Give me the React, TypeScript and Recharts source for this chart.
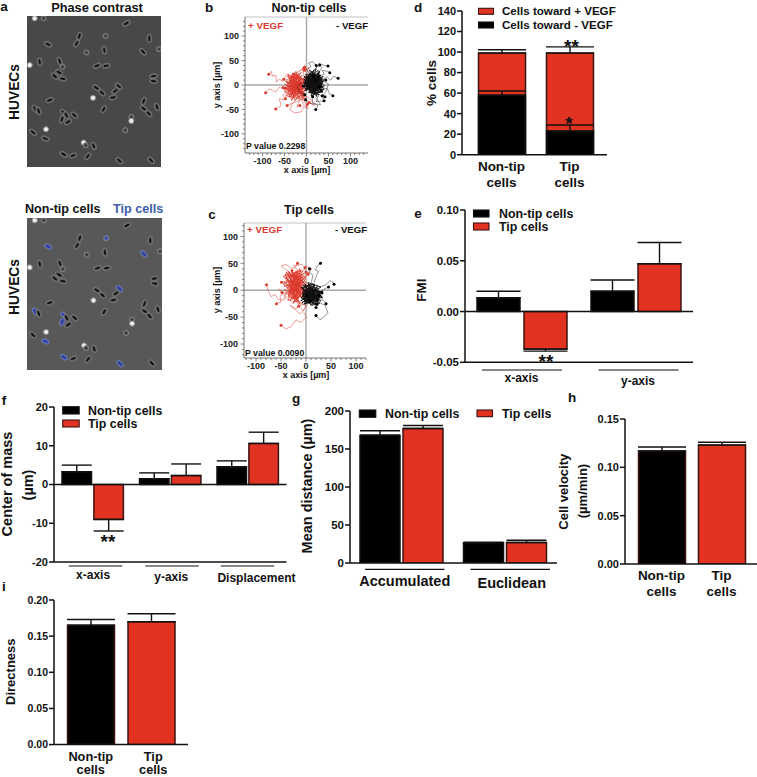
import React from 'react';
import {
  BarChart, Bar, Cell, XAxis, YAxis, ErrorBar, ReferenceLine,
  ScatterChart, Scatter,
} from 'recharts';

const FONT = '"Liberation Sans", Arial, sans-serif';
const BLACK = '#000000';
const RED = '#e23322';
const TRACE_RED = '#dc3a2e';
const TIP_BLUE = '#3d5ea8';

// ---------- panel d
const dCategories = ['Non-tip\ncells', 'Tip\ncells'];
const dTotal = [99, 99];
const dTotalErr = [3.2, 6];
const dMinus = [58, 23];
const dMinusErr = [4, 6];

// ---------- panel e
const eCategories = ['x-axis', 'y-axis'];
const eNonTip = [0.0135, 0.02];
const eNonTipErr = [0.0065, 0.011];
const eTip = [-0.037, 0.047];
const eTipErr = [0.002, 0.021];

// ---------- panel f
const fCategories = ['x-axis', 'y-axis', 'Displacement'];
const fNonTip = [3.3, 1.5, 4.6];
const fNonTipErr = [1.7, 1.5, 1.5];
const fTip = [-9, 2.3, 10.6];
const fTipErr = [3, 3, 2.9];

// ---------- panel g
const gCategories = ['Accumulated', 'Euclidean'];
const gNonTip = [168, 26.5];
const gNonTipErr = [6, 1];
const gTip = [177, 27];
const gTipErr = [4, 3];

// ---------- panels h, i
const cellTypes = ['Non-tip\ncells', 'Tip\ncells'];
const hValues = [0.117, 0.123];
const hErr = [0.004, 0.003];
const iValues = [0.165, 0.17];
const iErr = [0.008, 0.011];

// ---------- micrographs: x, y, angle, kind (0 elongated, 1 round, 2 bright)
const phaseCells: number[][] = [
  [378, 70, -30, 0], [229, 130, -60, 0], [237, 108, -70, 0], [143, 133, 25, 0], [316, 108, 0, 1],
  [447, 115, 90, 0], [312, 150, 80, 0], [258, 157, 0, 1], [428, 155, 45, 0], [476, 147, 0, 1],
  [118, 185, 80, 0], [178, 183, 70, 0], [187, 200, 0, 1], [290, 197, -20, 0], [318, 197, -10, 0],
  [88, 195, 0, 2], [163, 228, 40, 0], [176, 217, 30, 0], [187, 236, 10, 0], [460, 228, -10, 0],
  [460, 243, 10, 0], [288, 263, 30, 0], [305, 278, 40, 0], [355, 258, 40, 0], [345, 272, -35, 0],
  [338, 292, -10, 0], [278, 293, 0, 2], [148, 300, -20, 0], [104, 326, 60, 0], [115, 332, 70, 0],
  [430, 303, -70, 0], [430, 325, 30, 0], [445, 340, 45, 0], [470, 320, 70, 0], [310, 327, -60, 0],
  [190, 337, 40, 0], [185, 357, -70, 0], [198, 345, 60, 0], [203, 365, -30, 0], [222, 345, 40, 0],
  [393, 350, 0, 1], [393, 362, 0, 2], [375, 390, 0, 1], [137, 387, 0, 2], [98, 396, 40, 0],
  [135, 415, 20, 0], [250, 427, 0, 2], [256, 435, 0, 1], [280, 437, 70, 0], [190, 462, 30, 0],
  [218, 466, -20, 0], [262, 468, -50, 0], [357, 481, 40, 0], [452, 480, 45, 0], [103, 55, 0, 2],
  [130, 55, 0, 1],
];
const tipCellIndexes = [3, 4, 8, 23, 28, 35, 36, 45, 49, 52];

// ---------- panel b tracks: flat x,y lists
const bRedTracks: number[][] = [
  [-18,-6,-34,8,-8,-10,-26,16,-44,-12,-14,6,-30,-26,-4,2,-38,10,-20,-14,-50,2,-10,-20,-32,-4,-16,20,-42,-16,-24,-2],
  [-24,-10,-10,6,-36,-6,-18,24,-46,-2,-6,-6,-28,-20,-14,14,-40,-24,-22,8,-8,-24,-34,20,-16,-16,-30,2,-4,-18,-48,-6],
  [-12,-4,-28,6,-42,-14,-20,-8,-34,-32,-16,16,-6,-26,-38,2,-24,28,-12,-14,-44,6,-26,-16,-2,10,-30,22],
  [-20,0,-40,15,-5,-15,-35,-20,-10,20,-45,-5,0,5,-28,25,-15,-28,-48,8,-3,-8,-30,-12,-12,14,-38,-25,2,18,-25,5],
  [-30,-8,-8,-22,-44,18,-18,12,-2,-28,-50,-14,-12,26,-34,4,4,-6,-26,-32,-42,22,-6,8,-22,-18,-40,-2,-14,-10,-32,16],
  [-15,5,-38,-15,-24,22,-52,-8,-6,-14,-30,10,-18,-24,-46,12,-10,0,-36,-28,-20,18],
  [-28,-4,-12,10,-42,-10,-22,-26,-4,16,-34,-18,-16,-4,-46,-22,-8,-30,-26,12,-40,6,-18,28,-6,34],
  [-25,5,-40,3,-48,10,-55,8,-62,12,-68,6,-70,20,-78,18,-80,28,-86,22],
  [-30,-5,-50,-8,-62,-5,-70,-14,-75,-12,-85,-8,-93,-16],
  [-30,-18,-45,-20,-50,-30,-62,-28,-58,-42,-70,-49],
  [-20,-25,-32,-38,-38,-50,-28,-57,-12,-55,-5,-42,-12,-30,-25,-35,-40,-40,-44,-42],
  [-15,10,-25,18,-34,16],
  [-5,15,-8,30,-1,28,-4,37],
  [-10,-25,-2,-38,4,-48,-4,-46,2,-40],
  [-35,-10,-48,-14,-53,-5],
  [-5,-20,10,-30,18,-42,6,-36],
  [-30,15,-45,22,-52,12],
  [-40,-15,-55,-22,-48,-28],
  [-15,-30,-22,-45,-15,-42],
  [0,20,5,35,-5,30],
];
const bBlackTracks: number[][] = [
  [10,0,22,10,4,-8,18,-14,28,4,6,16,-2,2,14,-10,32,10,12,22,0,-12,24,14,8,-4,20,2,-4,8,30,-10,16,18],
  [6,8,24,-6,12,14,-4,-4,18,6,30,-8,2,16,26,12,10,-16,-6,4,22,22,14,-6,36,0,8,10,20,-18,0,20,28,-4],
  [16,4,2,2,26,-12,10,10,34,14,6,-10,20,16,-6,-6,14,24,30,0,4,6,24,-20,12,-2,38,4,18,12,-2,12,28,18],
  [18,-2,8,-6,30,6,0,8,22,-8,12,18,-4,-12,26,24,6,4,34,-10,16,0,-6,18,24,6,10,-14,32,16,4,-4,20,10],
  [5,5,25,-8,2,18,30,12,8,-12,22,20,-2,-3,35,3,12,28,18,-20,28,25,-4,10,38,-6,10,12,20,-14,6,24,32,-2],
  [12,-5,-6,12,28,-16,16,30,0,-10,36,14,4,20,24,-2,-3,-8,30,28,14,-18,8,8,40,8,-5,2,26,18,10,-22,34,-12],
  [20,5,3,-6,33,20,-2,22,15,-12,41,-2,7,31,24,-24,-7,6,29,8,11,16,37,-15,5,-16,22,34,-1,14,44,10],
  [8,2,26,6,0,-6,18,16,34,-8,6,-14,28,-20,-4,16,14,6,38,18,20,-6,2,10,30,-14,12,22,24,10,-8,-2],
  [15,-3,4,14,22,-12,36,8,10,20,-2,4,26,30,32,-4,16,10,8,-8,40,-10,18,24,2,-2,28,2,14,-24],
  [15,10,35,35,28,44,40,40,49,39],
  [22,15,40,22,36,30,48,28,53,25],
  [28,8,46,16,55,10,62,18,72,14],
  [30,-5,48,-8,52,-18,60,-22],
  [25,-15,38,-28,42,-24],
  [12,-20,14,-35,26,-42,21,-50],
  [12,18,18,32,30,41],
  [8,22,0,32,10,38,5,45,14,48,22,40],
  [20,-25,32,-40,10,-38,-2,-30],
  [-10,6,-22,-4,-12,-16,-4,-20],
  [35,10,50,2,44,-14,36,-22],
  [28,-20,22,-34,40,-32],
];

// ---------- panel c tracks
const cRedTracks: number[][] = [
  [-14,8,-28,-8,-2,26,-34,14,-10,-12,-24,30,-42,22,-6,6,-30,-2,-16,-20,-38,4,-4,16,-20,8,-46,26,-12,32,-26,-14],
  [-8,0,-22,26,-36,-12,-4,32,-30,12,-14,-6,-40,34,-18,16,2,-12,-32,24,-10,38,-24,-2,-44,8,-6,12,-16,-16,-28,36],
  [-20,6,-6,24,-32,30,-14,-24,-42,-4,-2,-6,-26,18,-36,-20,-8,20,-18,34,-34,-14,0,34],
  [-10,5,-30,20,-5,-10,-28,-15,0,22,-40,8,-8,30,-24,-22,6,12,-36,28,-15,-5,-44,16,-2,-18,-20,36,-34,-8,4,30],
  [-18,14,2,-16,-38,22,-12,-26,-30,6,-6,36,-42,30,-22,-12,8,4,-28,34,-16,-2,-46,12,-10,24,-32,-20,0,8,-20,26],
  [-25,10,-6,18,-35,-2,-14,32,-40,18,-2,0,-26,-25,-10,10,-36,36,-20,-16,-44,2,-8,-14,-30,26,-12,40,-24,4],
  [-5,-20,-20,-35,-32,-28,-12,-44,2,-30,-22,-18,-6,-38,8,-20,-15,-30],
  [-20,0,-28,-2,-40,-6,-44,-18,-55,-18,-62,-8,-70,-12,-75,-2,-79,10],
  [-10,-20,-25,-22,-40,-15,-46,-5,-52,-12,-50,-22,-59,-25],
  [-5,-40,0,-50,-10,-60,-20,-55,-30,-68,-40,-72,-50,-65],
  [-20,20,-35,35,-50,45,-40,48,-28,40,-20,44,-17,50],
  [-10,30,0,45,12,40,4,30],
  [-30,20,-41,30,-36,18,-49,15],
  [-38,-8,-55,2,-48,-4],
  [-15,35,-25,46,-8,48,-2,42],
];
const cBlackTracks: number[][] = [
  [6,-8,20,2,-4,-14,14,-22,28,-6,0,4,18,-14,-8,-4,24,-24,10,8,-2,-20,32,-12,8,-2,16,-8,-10,6,22,-18],
  [10,-14,-2,-2,26,0,4,-24,16,10,-6,-16,30,-20,12,-6,-8,-8,20,-28,6,12,24,-8,-4,-26,14,2,34,-14,2,-10],
  [14,-4,0,-16,22,6,8,-18,-6,2,28,-24,12,-28,-10,-14,18,-2,2,8,26,-16,6,-6,-4,-22,30,-2,10,-20],
  [5,-5,22,-15,-5,8,18,10,-8,-12,28,-2,8,-24,-2,12,24,-18,12,4,-10,-20,30,6,4,14,16,-26,-6,-2,26,-10],
  [12,2,-4,-18,24,8,2,-8,20,-22,-8,4,14,12,28,-14,-2,-26,10,-12,32,-6,6,6,-6,-10,20,2,0,-22,22,-26],
  [0,0,18,-8,-6,10,26,-18,10,-28,-4,-6,16,6,30,-10,2,-16,24,4,-8,-24,12,-4,34,-2,8,-20],
  [15,10,20,25,25,35,18,38,25,48,29,50],
  [25,5,40,10,48,18,55,14,56,11],
  [20,-20,38,-28,44,-42,35,-50,28,-55,20,-47],
  [10,12,14,28,6,34,7,40],
  [25,-5,36,2,45,6],
  [22,-14,34,-18,40,-25],
  [12,-22,24,-26,20,-32],
  [26,-10,34,-8,32,-4],
];

const XY = (flat: number[]) => {
  const out: { x: number; y: number }[] = [];
  for (let i = 0; i + 1 < flat.length; i += 2) out.push({ x: flat[i], y: flat[i + 1] });
  return out;
};

const barRows = (cats: string[], a: number[], aE: number[], b: number[], bE: number[]) =>
  cats.map((c, i) => ({
    cat: c,
    a: a[i],
    b: b[i],
    aErr: a[i] < 0 ? [aE[i], 0] : [0, aE[i]],
    bErr: b[i] < 0 ? [bE[i], 0] : [0, bE[i]],
  }));

const singleRows = (cats: string[], v: number[], e: number[]) =>
  cats.map((c, i) => ({ cat: c, v: v[i], err: [0, e[i]] }));

// ---------- tick renderers
const TwoLineTick = (dy: number[], fs: number, dx: number[] = [0, 0]) => (p: any) => {
  const lines = String(p.payload.value).split('\n');
  return (
    <g>
      {lines.map((l: string, i: number) => (
        <text key={i} x={p.x + (dx[p.index] || 0)} y={p.y + dy[i] + fs * 0.35} textAnchor="middle"
          fontFamily={FONT} fontWeight={700} fontSize={fs} fill="#111">{l}</text>
      ))}
    </g>
  );
};

const GroupTick = (cfg: { lineDy: number; half: number; lineDx: number[]; labelDx: number[]; labelDy: number[]; fs: number }) => (p: any) => (
  <g>
    <line x1={p.x + cfg.lineDx[p.index] - cfg.half} x2={p.x + cfg.lineDx[p.index] + cfg.half}
      y1={p.y + cfg.lineDy} y2={p.y + cfg.lineDy} stroke="#111" strokeWidth={1.2} />
    <text x={p.x + cfg.labelDx[p.index]} y={p.y + cfg.labelDy[p.index] + cfg.fs * 0.35} textAnchor="middle"
      fontFamily={FONT} fontWeight={700} fontSize={cfg.fs} fill="#111">{p.payload.value}</text>
  </g>
);

// ---------- generic bar frame
const LEFT = 40;
const RIGHT = 24;
const BOTTOM = 36;
const TOPPAD = 8;

type FrameProps = {
  x0: number; x1: number; yTop: number; yBot: number;
  domain: [number, number]; ticks: number[]; digits: number; tickFs: number;
  data: any[]; barSize: number; barGap: number; padding?: { left: number; right: number };
  tick: any; zero?: boolean; children: React.ReactNode;
};

const Frame = ({ x0, x1, yTop, yBot, domain, ticks, digits, tickFs, data, barSize, barGap, padding, tick, zero, children }: FrameProps) => (
  <div style={{ position: 'absolute', left: x0 - LEFT, top: yTop - TOPPAD }}>
    <BarChart width={x1 - x0 + LEFT + RIGHT} height={yBot - yTop + TOPPAD + BOTTOM} data={data}
      margin={{ top: TOPPAD, right: RIGHT, bottom: 0, left: 0 }} barSize={barSize} barGap={barGap}>
      <XAxis dataKey="cat" height={BOTTOM} interval={0} tickLine={false} tickSize={0} tickMargin={0}
        axisLine={{ stroke: '#111', strokeWidth: 1.5 }} tick={tick} padding={padding} />
      <YAxis width={LEFT} type="number" domain={domain} ticks={ticks} interval={0} allowDataOverflow
        tickFormatter={(v: number) => v.toFixed(digits)} tickSize={5} tickMargin={1}
        tick={{ fontFamily: FONT, fontWeight: 700, fontSize: tickFs, fill: '#111' }}
        axisLine={{ stroke: '#111', strokeWidth: 1.5 }} tickLine={{ stroke: '#111', strokeWidth: 1.5 }} />
      {children}
      {zero ? <ReferenceLine y={0} stroke="#111" strokeWidth={1.5} /> : null}
    </BarChart>
  </div>
);

const pairBars = (capA: number, capB: number) => [
  <Bar key="a" dataKey="a" fill={BLACK} stroke="#111" strokeWidth={1.5} isAnimationActive={false}>
    <ErrorBar dataKey="aErr" width={capA} stroke="#111" strokeWidth={1.4} isAnimationActive={false} />
  </Bar>,
  <Bar key="b" dataKey="b" fill={RED} stroke="#3a1410" strokeWidth={1.5} isAnimationActive={false}>
    <ErrorBar dataKey="bErr" width={capB} stroke="#111" strokeWidth={1.4} isAnimationActive={false} />
  </Bar>,
];

// ---------- micrograph
const CellMark = (tip: boolean) => (p: any) => {
  const [, , angle, kind] = p.payload.row;
  const { cx, cy } = p;
  const blue = tip && tipCellIndexes.includes(p.payload.idx);
  if (kind === 2) return <circle cx={cx} cy={cy} r={2.6} fill="#eeeeee" stroke="#868686" strokeWidth={1} />;
  if (kind === 1) return (
    <g>
      <circle cx={cx} cy={cy} r={2.6} fill={blue ? '#4a5cb0' : '#565656'} stroke="#8c8c8c" strokeWidth={0.8} />
      <circle cx={cx} cy={cy} r={0.9} fill={blue ? '#32408f' : '#2a2a2a'} />
    </g>
  );
  return (
    <g transform={`rotate(${angle} ${cx} ${cy})`}>
      <ellipse cx={cx} cy={cy} rx={4.3} ry={2.5} fill={blue ? '#5464b8' : '#5f5f5f'} stroke="#888888" strokeWidth={0.45} />
      <ellipse cx={cx} cy={cy} rx={2.8} ry={1} fill={blue ? '#2c3a94' : '#101010'} />
    </g>
  );
};

const Micrograph = ({ left, top, width, height, tip, bg }: any) => (
  <div style={{ position: 'absolute', left, top, background: bg, filter: 'blur(0.35px)' }}>
    <ScatterChart width={width} height={height} margin={{ top: 0, right: 0, bottom: 0, left: 0 }}>
      <XAxis hide type="number" dataKey="x" domain={[80, 482]} allowDataOverflow />
      <YAxis hide type="number" dataKey="y" domain={[48, 500]} reversed allowDataOverflow />
      <Scatter isAnimationActive={false}
        data={phaseCells.map((row, idx) => ({ x: row[0], y: row[1], row, idx }))}
        shape={CellMark(tip)} />
    </ScatterChart>
  </div>
);

// ---------- migration plot
const minorTicks = [-130,-120,-110,-100,-90,-80,-70,-60,-50,-40,-30,-20,-10,0,10,20,30,40,50,60,70,80,90,100,110,120,130];
const NoDot = () => <g />;

const XMinor = (p: any) => {
  const v = p.payload.value;
  const major = v % 50 === 0;
  return (
    <g>
      <line x1={p.x} x2={p.x} y1={p.y - 8} y2={p.y - 8 + (major ? 3.5 : 2)} stroke="#555" strokeWidth={0.7} />
      {major ? <text x={p.x} y={p.y + 3} textAnchor="middle" fontFamily={FONT} fontWeight={700} fontSize={9} fill="#222">{v}</text> : null}
    </g>
  );
};
const YMinor = (p: any) => {
  const v = p.payload.value;
  const major = v % 50 === 0;
  return (
    <g>
      <line x1={p.x + 8} x2={p.x + 8 - (major ? 3.5 : 2)} y1={p.y} y2={p.y} stroke="#555" strokeWidth={0.7} />
      {major ? <text x={p.x + 2} y={p.y + 3.2} textAnchor="end" fontFamily={FONT} fontWeight={700} fontSize={9} fill="#222">{v}</text> : null}
    </g>
  );
};

const Tracks = ({ x0, x1, yTop, yBot, dx, dy, red, black }: any) => (
  <div style={{ position: 'absolute', left: x0 - 34, top: yTop - 4 }}>
    <ScatterChart width={x1 - x0 + 34 + 4} height={yBot - yTop + 4 + 18}
      margin={{ top: 4, right: 4, bottom: 0, left: 0 }}>
      <XAxis type="number" dataKey="x" domain={dx} ticks={minorTicks.filter(t => t >= dx[0] && t <= dx[1])} interval={0}
        height={18} tickLine={false} tickSize={0} tickMargin={8} tick={XMinor} allowDataOverflow
        axisLine={{ stroke: '#777', strokeWidth: 1 }} />
      <YAxis type="number" dataKey="y" domain={dy} ticks={minorTicks.filter(t => t >= dy[0] && t <= dy[1])} interval={0}
        width={34} tickLine={false} tickSize={0} tickMargin={8} tick={YMinor} allowDataOverflow
        axisLine={{ stroke: '#777', strokeWidth: 1 }} />
      <ReferenceLine y={dy[1]} stroke="#c4c4c4" strokeWidth={1.2} />
      {red.map((t: number[], i: number) => (
        <Scatter key={'r' + i} data={XY(t)} line={{ stroke: TRACE_RED, strokeWidth: t.length > 24 ? 0.75 : 0.5 }} shape={NoDot} isAnimationActive={false} />
      ))}
      {black.map((t: number[], i: number) => (
        <Scatter key={'k' + i} data={XY(t)} line={{ stroke: '#111', strokeWidth: t.length > 24 ? 0.85 : 0.45 }} shape={NoDot} isAnimationActive={false} />
      ))}
      <Scatter data={red.map((t: number[]) => XY(t)[XY(t).length - 1])} isAnimationActive={false}
        shape={(p: any) => <circle cx={p.cx} cy={p.cy} r={1.5} fill={TRACE_RED} />} />
      <Scatter data={black.map((t: number[]) => XY(t)[XY(t).length - 1])} isAnimationActive={false}
        shape={(p: any) => <circle cx={p.cx} cy={p.cy} r={1.5} fill="#000" />} />
      <ReferenceLine y={0} stroke="#a8a8a8" strokeWidth={1.4} />
      <ReferenceLine x={0} stroke="#a8a8a8" strokeWidth={1.4} />
    </ScatterChart>
  </div>
);

// ---------- overlay text
const T = ({ x, y, fs = 12, anchor = 'middle', fill = '#111', rot, children, weight = 700 }: any) => (
  <text x={x} y={y + fs * 0.35} textAnchor={anchor} fontFamily={FONT} fontWeight={weight} fontSize={fs} fill={fill}
    transform={rot ? `rotate(${rot} ${x} ${y})` : undefined}>{children}</text>
);
const Star = ({ x, y, n = 2 }: any) => (
  <text x={x} y={y + 19 * 0.55} textAnchor="middle" fontFamily={FONT} fontWeight={700} fontSize={19} fill="#111">{'*'.repeat(n)}</text>
);
const Key = ({ x, y, w, h, fill, tx, label, fs = 12.4 }: any) => (
  <g>
    <rect x={x} y={y} width={w} height={h} fill={fill} stroke={fill === BLACK ? '#111' : '#3a1410'} strokeWidth={1.1} />
    <T x={tx} y={y + h / 2} fs={fs} anchor="start">{label}</T>
  </g>
);

export default function App() {
  return (
    <div style={{ position: 'absolute', left: 0, top: 0, width: 757, height: 777, background: '#fff', overflow: 'hidden' }}>
      <Micrograph left={27} top={16} width={134} height={151} tip={false} bg="#484848" />
      <Micrograph left={27} top={218} width={135} height={152} tip bg="#585858" />

      <Tracks x0={245} x1={368} yTop={17} yBot={153} dx={[-140, 140]} dy={[-139, 139]} red={bRedTracks} black={bBlackTracks} />
      <Tracks x0={244} x1={366} yTop={223} yBot={358} dx={[-124, 120]} dy={[-126, 125]} red={cRedTracks} black={cBlackTracks} />

      {/* d */}
      <Frame x0={462} x1={607} yTop={11} yBot={154.7} domain={[0, 140]} ticks={[0, 20, 40, 60, 80, 100, 120, 140]} digits={0} tickFs={11}
        data={dCategories.map((c, i) => ({ cat: c, total: dTotal[i], minus: dMinus[i], totalErr: [0, dTotalErr[i]], minusErr: [0, dMinusErr[i]] }))}
        barSize={47} barGap={-47} padding={{ left: 5.5, right: 3.5 }} tick={TwoLineTick([12, 28], 13.5)}>
        <Bar dataKey="total" fill={RED} stroke="#3a1410" strokeWidth={1.5} isAnimationActive={false}>
          <ErrorBar dataKey="totalErr" width={24} stroke="#111" strokeWidth={1.4} isAnimationActive={false} />
        </Bar>
        <Bar dataKey="minus" fill={BLACK} stroke="#111" strokeWidth={1.5} isAnimationActive={false}>
          <ErrorBar dataKey="minusErr" width={24} stroke="#111" strokeWidth={1.4} isAnimationActive={false} />
        </Bar>
      </Frame>

      {/* e */}
      <Frame x0={465} x1={693} yTop={210} yBot={362.3} domain={[-0.05, 0.1]} ticks={[-0.05, 0, 0.05, 0.1]} digits={2} tickFs={11.5}
        data={barRows(eCategories, eNonTip, eNonTipErr, eTip, eTipErr)} barSize={43} barGap={4} zero
        tick={GroupTick({ lineDy: 7.7, half: 40, lineDx: [0, 2.5], labelDx: [-0.5, 2], labelDy: [15.7, 18.7], fs: 12 })}>
        {pairBars(22, 22)}
      </Frame>

      {/* f */}
      <Frame x0={54} x1={286.5} yTop={406.7} yBot={561.7} domain={[-20, 20]} ticks={[-20, -10, 0, 10, 20]} digits={0} tickFs={11}
        data={barRows(fCategories, fNonTip, fNonTipErr, fTip, fTipErr)} barSize={29.5} barGap={2.4} zero
        tick={GroupTick({ lineDy: 4, half: 26.7, lineDx: [2.8, 1.8, -0.3], labelDx: [0.3, 1, 8.7], labelDy: [12.3, 14.3, 15.3], fs: 12 })}>
        {pairBars(15, 15)}
      </Frame>

      {/* g */}
      <Frame x0={350} x1={557} yTop={410.7} yBot={562.7} domain={[0, 200]} ticks={[0, 50, 100, 150, 200]} digits={0} tickFs={11.5}
        data={barRows(gCategories, gNonTip, gNonTipErr, gTip, gTipErr)} barSize={40} barGap={3}
        tick={GroupTick({ lineDy: 6.3, half: 39.7, lineDx: [3, 5], labelDx: [3, 6.5], labelDy: [18, 19.6], fs: 14.5 })}>
        {pairBars(20, 20)}
      </Frame>

      {/* h */}
      <Frame x0={625} x1={757} yTop={419} yBot={564} domain={[0, 0.15]} ticks={[0, 0.05, 0.1, 0.15]} digits={2} tickFs={11}
        data={singleRows(cellTypes, hValues, hErr)} barSize={47} barGap={0} padding={{ left: 6.5, right: 5.5 }}
        tick={TwoLineTick([11.7, 27.7], 13.5)}>
        <Bar dataKey="v" stroke="#3a1410" strokeWidth={1.5} isAnimationActive={false}>
          <Cell fill={BLACK} />
          <Cell fill={RED} />
          <ErrorBar dataKey="err" width={24} stroke="#111" strokeWidth={1.4} isAnimationActive={false} />
        </Bar>
      </Frame>

      {/* i */}
      <Frame x0={54} x1={188} yTop={599.7} yBot={744.3} domain={[0, 0.2]} ticks={[0, 0.05, 0.1, 0.15, 0.2]} digits={2} tickFs={10.5}
        data={singleRows(cellTypes, iValues, iErr)} barSize={47} barGap={0} padding={{ left: 6.5, right: 6.5 }}
        tick={TwoLineTick([11.5, 25], 12.8, [0, 2])}>
        <Bar dataKey="v" stroke="#3a1410" strokeWidth={1.5} isAnimationActive={false}>
          <Cell fill={BLACK} />
          <Cell fill={RED} />
          <ErrorBar dataKey="err" width={24} stroke="#111" strokeWidth={1.4} isAnimationActive={false} />
        </Bar>
      </Frame>

      <svg width={757} height={777} style={{ position: 'absolute', left: 0, top: 0, pointerEvents: 'none' }}>
        {/* panel letters */}
        <T x={4} y={6} fs={13.5}>a</T>
        <T x={209} y={7} fs={13.5}>b</T>
        <T x={212} y={214} fs={13.5}>c</T>
        <T x={418} y={7} fs={13.5}>d</T>
        <T x={418} y={213} fs={13.5}>e</T>
        <T x={4} y={400} fs={13.5}>f</T>
        <T x={296} y={398} fs={13.5}>g</T>
        <T x={572} y={397} fs={13.5}>h</T>
        <T x={4} y={586} fs={13.5}>i</T>

        {/* a */}
        <T x={97} y={8} fs={12.8}>Phase contrast</T>
        <T x={14} y={92} fs={13.8} rot={-90}>HUVECs</T>
        <T x={25} y={209} fs={12.6} anchor="start">Non-tip cells</T>
        <T x={113} y={209} fs={12.6} anchor="start" fill={TIP_BLUE}>Tip cells</T>
        <T x={14} y={287} fs={13.8} rot={-90}>HUVECs</T>

        {/* b */}
        <T x={309} y={8} fs={12.5}>Non-tip cells</T>
        <T x={248} y={25.7} fs={9.8} anchor="start" fill={TRACE_RED}>+ VEGF</T>
        <T x={368} y={25.7} fs={9.6} anchor="end">- VEGF</T>
        <T x={246} y={145.7} fs={8.7} anchor="start">P value 0.2298</T>
        <T x={307} y={170} fs={9}>x axis [µm]</T>
        <T x={217} y={85} fs={9} rot={-90}>y axis [µm]</T>

        {/* c */}
        <T x={309} y={210} fs={12.5}>Tip cells</T>
        <T x={247} y={230} fs={9.8} anchor="start" fill={TRACE_RED}>+ VEGF</T>
        <T x={367} y={230} fs={9.6} anchor="end">- VEGF</T>
        <T x={245} y={352.7} fs={8.7} anchor="start">P value 0.0090</T>
        <T x={306} y={375} fs={9}>x axis [µm]</T>
        <T x={217} y={290} fs={9} rot={-90}>y axis [µm]</T>

        {/* d */}
        <T x={431} y={83} fs={13.6} rot={-90}>% cells</T>
        <Key x={478.5} y={8.3} w={15} h={6} fill={RED} tx={502} label="Cells toward + VEGF" fs={11.6} />
        <Key x={478.5} y={22} w={15} h={6} fill={BLACK} tx={502} label="Cells toward - VEGF" fs={11.6} />
        <Star x={571.5} y={42.5} />
        <Star x={569} y={120} n={1} />

        {/* e */}
        <T x={421} y={290} fs={13.5} rot={-90}>FMI</T>
        <Key x={473.5} y={210} w={15.5} h={7} fill={BLACK} tx={499} label="Non-tip cells" />
        <Key x={473.5} y={223} w={15.5} h={7} fill={RED} tx={499} label="Tip cells" />
        <Star x={546} y={358} />

        {/* f */}
        <T x={7} y={484} fs={14.5} rot={-90}>Center of mass</T>
        <T x={28} y={485} fs={14.5} rot={-90}>(µm)</T>
        <Key x={62.7} y={406.7} w={16.5} h={7.3} fill={BLACK} tx={88} label="Non-tip cells" />
        <Key x={62.7} y={420} w={16.5} h={7} fill={RED} tx={88} label="Tip cells" />
        <Star x={108} y={538} />

        {/* g */}
        <T x={307} y={486} fs={14.5} rot={-90}>Mean distance (µm)</T>
        <Key x={359.3} y={410} w={16.5} h={7.3} fill={BLACK} tx={385} label="Non-tip cells" />
        <Key x={477} y={410} w={15.5} h={6.7} fill={RED} tx={502} label="Tip cells" />

        {/* h */}
        <T x={563} y={491.7} fs={13} rot={-90}>Cell velocity</T>
        <T x={582.7} y={491} fs={13} rot={-90}>(µm/min)</T>

        {/* i */}
        <T x={10} y={671.7} fs={13} rot={-90}>Directness</T>
      </svg>
    </div>
  );
}
